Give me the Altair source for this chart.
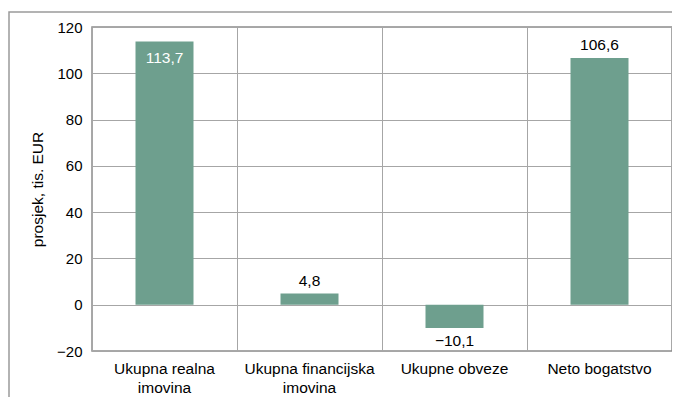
import altair as alt
import pandas as pd

categories = ["Ukupna realna imovina", "Ukupna financijska imovina", "Ukupne obveze", "Neto bogatstvo"]
label_lines = [["Ukupna realna", "imovina"], ["Ukupna financijska", "imovina"], ["Ukupne obveze"], ["Neto bogatstvo"]]
values = [113.7, 4.8, -10.1, 106.6]
y_ticks = [-20, 0, 20, 40, 60, 80, 100, 120]

df = pd.DataFrame({"cat": categories, "v": values})

FONT = "Liberation Sans"
FS = 15.5
BAR = "#6e9f8e"
order = categories

lab_expr = "{" + ",".join(
    f"'{c}': [" + ",".join(f"'{l}'" for l in ls) + "]" for c, ls in zip(categories, label_lines)
) + "}[datum.label]"

x = alt.X("cat:N", sort=order, title=None,
          scale=alt.Scale(paddingInner=0, paddingOuter=0),
          axis=alt.Axis(labelAngle=0, labelFont=FONT, labelFontSize=15.5, labelColor="#000",
                        labelPadding=10, labelLineHeight=19, ticks=False, domain=False,
                        grid=True, gridColor="#a6a6a6", bandPosition=0,
                        labelExpr=lab_expr, labelBaseline="top"))
y = alt.Y("v:Q", title="prosjek, tis. EUR",
          scale=alt.Scale(domain=[-20, 120], nice=False, zero=False),
          axis=alt.Axis(values=y_ticks, labelFont=FONT, labelFontSize=15, labelColor="#000",
                        labelPadding=10, ticks=False, domain=False, grid=True, gridColor="#a6a6a6",
                        labelExpr="replace(datum.label, '-', '–')",
                        titleFont=FONT, titleFontSize=FS, titleFontWeight="normal", titleColor="#000",
                        titleX=-55, titleY=162, titleAngle=-90, titleAlign="center", titleBaseline="middle"))

base = alt.Chart(df)

bars = base.mark_bar(size=58, color=BAR).encode(x=x, y=y)

txt = base.transform_calculate(
    t="replace(replace(format(datum.v, '.1f'), '.', ','), '-', '–')"
)
t_in = txt.transform_filter(alt.datum.cat == categories[0]).mark_text(
    font=FONT, fontSize=FS, color="white", dy=16, baseline="middle").encode(
    x=alt.X("cat:N", sort=order), y="v:Q", text="t:N")
t_up = txt.transform_filter((alt.datum.cat != categories[0]) & (alt.datum.v >= 0)).mark_text(
    font=FONT, fontSize=FS, color="black", dy=-13, baseline="middle").encode(
    x=alt.X("cat:N", sort=order), y="v:Q", text="t:N")
t_dn = txt.transform_filter(alt.datum.v < 0).mark_text(
    font=FONT, fontSize=FS, color="black", dy=13, baseline="middle").encode(
    x=alt.X("cat:N", sort=order), y="v:Q", text="t:N")

frame = alt.Chart(pd.DataFrame({"a": [0]})).mark_rect(
    fill="transparent", stroke="#9a9a9a", strokeWidth=1.5).encode(
    x=alt.value(-83), x2=alt.value(700), y=alt.value(-15), y2=alt.value(430))

chart = alt.layer(frame, bars, t_in, t_up, t_dn).properties(
    width=580, height=324,
    autosize=alt.AutoSizeParams(type="none"),
    padding={"left": 84, "top": 19, "right": 0, "bottom": 46},
    background="white",
).configure_view(stroke="#8c8c8c", strokeWidth=1.5)

chart.save("out.html", embed_options={"renderer": "svg", "actions": False})
